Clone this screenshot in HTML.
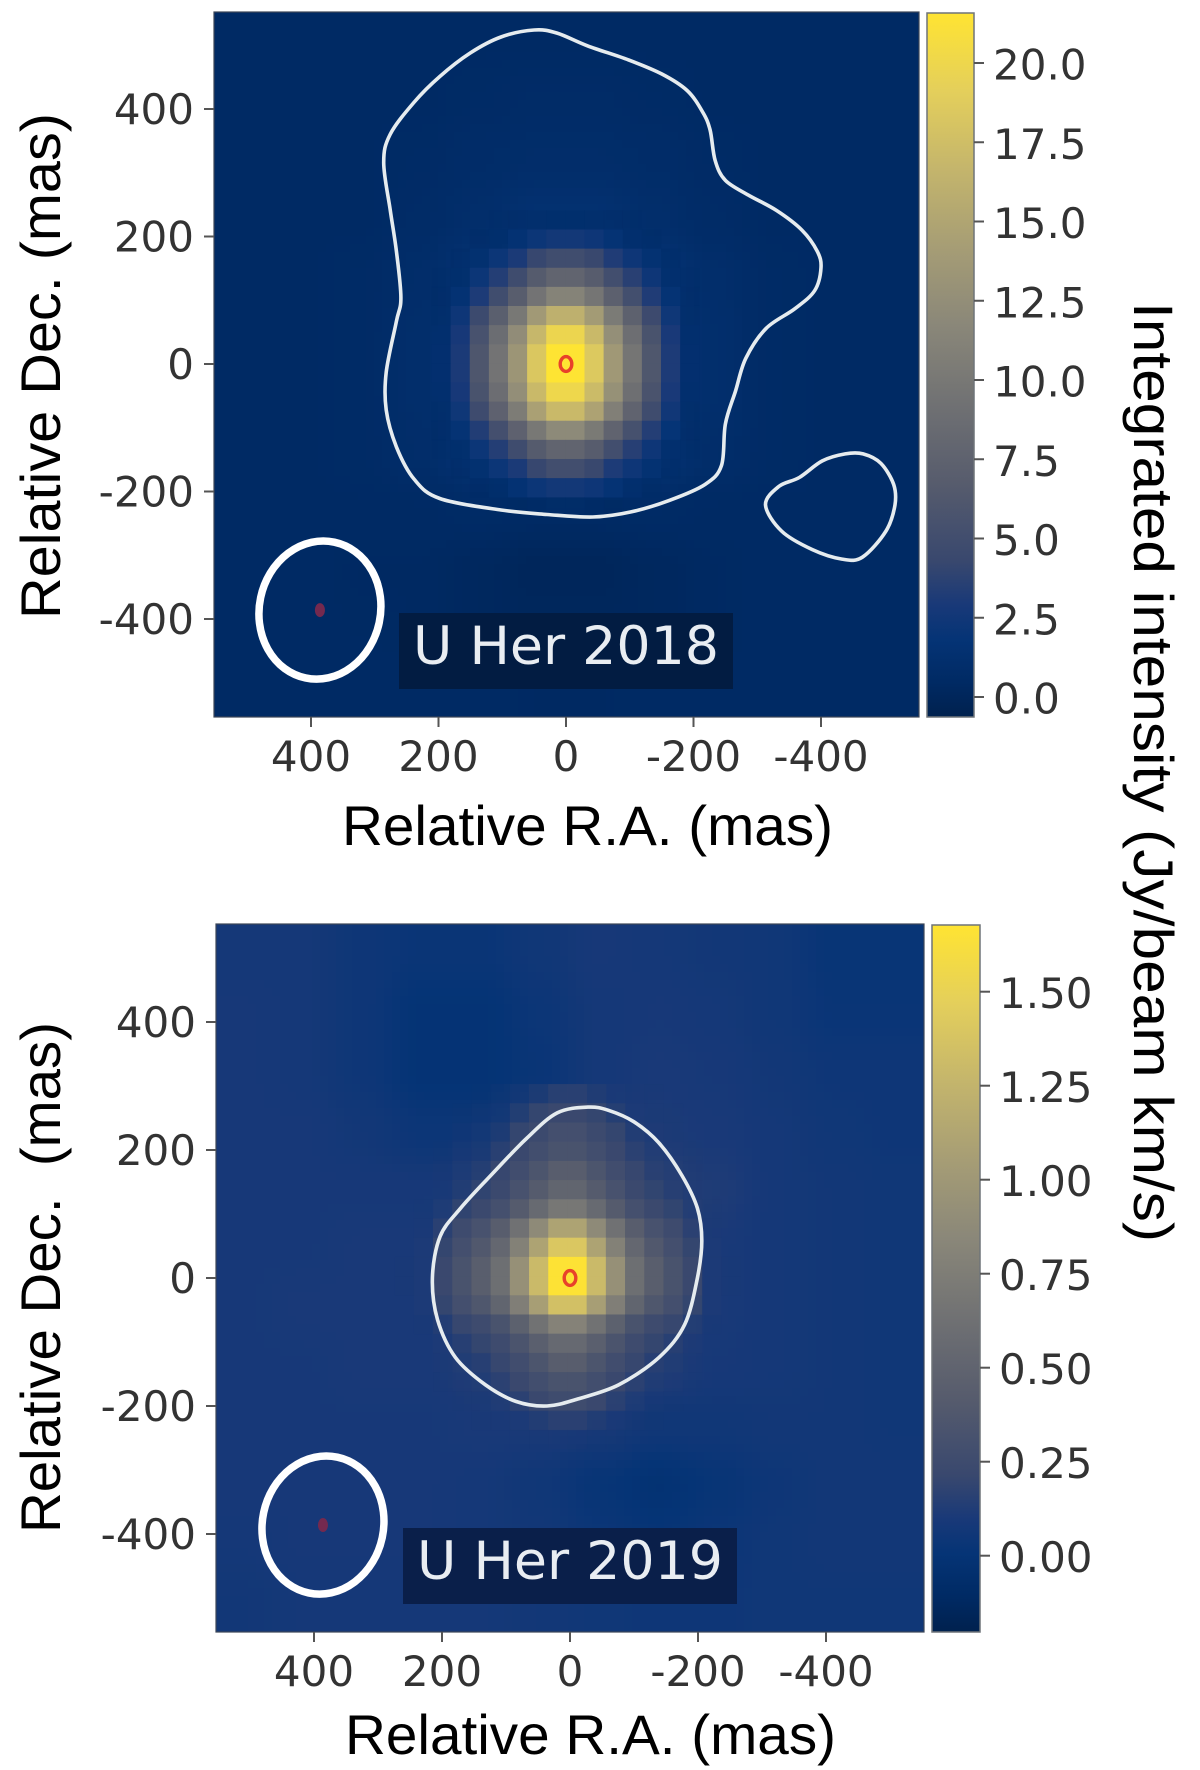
<!DOCTYPE html>
<html lang="en">
<head>
<meta charset="utf-8">
<title>U Her integrated intensity maps</title>
<style>
html,body{margin:0;padding:0;background:#fff;}
svg{display:block;}
.tick{font-family:"DejaVu Sans","Liberation Sans",sans-serif;font-size:42px;fill:#333;}
.title{font-family:"Liberation Sans",sans-serif;font-size:56px;fill:#000;white-space:pre;}
.tag{font-family:"DejaVu Sans","Liberation Sans",sans-serif;font-size:53px;fill:#e9edf2;}
</style>
</head>
<body>
<svg id="chart" xmlns="http://www.w3.org/2000/svg" width="1200" height="1770" viewBox="0 0 1200 1770">
<defs>
<clipPath id="clip2018"><rect x="214" y="12" width="705" height="705"/></clipPath>
<clipPath id="clip2019"><rect x="216" y="924" width="708" height="708"/></clipPath>
</defs>
</svg>
<script>
// ---------- shared tick labels ----------
const raTicks = [400, 200, 0, -200, -400];
const decTicks = [400, 200, 0, -200, -400];
const colorbarTicks2018 = [0, 2.5, 5, 7.5, 10, 12.5, 15, 17.5, 20];
const colorbarLabels2018 = ["0.0", "2.5", "5.0", "7.5", "10.0", "12.5", "15.0", "17.5", "20.0"];
const colorbarTicks2019 = [0, 0.25, 0.5, 0.75, 1, 1.25, 1.5];
const colorbarLabels2019 = ["0.00", "0.25", "0.50", "0.75", "1.00", "1.25", "1.50"];

// ---------- colormap ----------
const cividisStops = [
  [0, 0, 33, 78], [0.05, 0, 42, 100], [0.111, 5, 52, 118], [0.16, 25, 57, 120], [0.222, 57, 72, 110],
  [0.333, 87, 92, 109], [0.444, 112, 113, 115], [0.556, 138, 135, 121], [0.667, 166, 157, 117],
  [0.778, 196, 181, 108], [0.889, 228, 207, 91], [1, 255, 228, 50]
];

// ---------- 2018 values (Jy/beam km/s) ----------
const background2018 = [
  [.5,.5,.5,.5,.5,.5,.5,.5,.5,.5,.5,.5],
  [.5,.5,.5,.5,.6,.7,.7,.6,.5,.5,.5,.5],
  [.5,.5,.5,.6,.8,.9,.9,.8,.6,.5,.5,.5],
  [.5,.5,.5,.7,1.0,1.4,1.4,1.0,.7,.5,.5,.5],
  [.5,.5,.6,.9,1.6,2.0,2.0,1.6,1.0,.6,.5,.5],
  [.5,.5,.6,1.0,1.8,2.2,2.2,1.8,1.1,.6,.5,.5],
  [.5,.5,.6,1.0,1.8,2.2,2.2,1.8,1.1,.6,.5,.5],
  [.5,.5,.6,.9,1.6,2.0,2.0,1.6,.9,.6,.5,.5],
  [.5,.5,.5,.5,.6,.5,.5,.6,.5,.5,.5,.5],
  [.5,.5,.4,.4,.2,0,0,.2,.4,.5,.5,.5],
  [.5,.5,.45,.4,.2,.1,.1,.2,.4,.5,.5,.5],
  [.5,.5,.5,.5,.5,.4,.4,.5,.5,.5,.5,.5]
];
const core2018 = [
  [0,0,0,0,0,0,.1,.1,.1,.2,.2,.1,.1,.1,0,0,0,0,0,0],
  [0,0,0,0,.1,.1,.2,.2,.3,.4,.4,.3,.2,.2,.1,.1,0,0,0,0],
  [0,0,0,.1,.2,.3,.5,.7,.9,1.1,1.1,.9,.7,.5,.3,.2,.1,0,0,0],
  [0,0,.1,.2,.4,.7,1.1,1.6,2.2,2.6,2.6,2.3,1.7,1.2,.8,.4,.2,.1,0,0],
  [0,0,.1,.3,.7,1.4,2.2,3.0,4.2,4.9,4.9,4.3,3.2,2.3,1.5,.8,.3,.1,0,0],
  [0,.1,.2,.5,1.1,2.2,3.4,4.8,6.6,7.7,7.7,6.8,5.0,3.6,2.3,1.2,.5,.2,.1,0],
  [0,.1,.2,.7,1.6,3.1,4.9,6.9,9.5,11.2,11.2,9.7,7.2,5.1,3.2,1.7,.7,.2,.1,0],
  [0,.2,.3,1.0,2.3,4.5,7.1,10,13.7,16.1,16.1,13.9,10.3,7.3,4.6,2.4,1.0,.3,.2,0],
  [0,.2,.4,1.2,2.8,5.5,8.7,12.3,16.8,19.8,19.8,17,12.6,8.9,5.6,2.9,1.2,.4,.2,0],
  [0,.2,.4,1.3,3.0,6.0,9.5,13.3,18.3,21.5,21.5,18.5,13.6,9.7,6.1,3.1,1.3,.4,.2,0],
  [0,.2,.4,1.3,3.0,6.0,9.5,13.3,18.3,21.5,21.5,18.5,13.6,9.7,6.1,3.1,1.3,.4,.2,0],
  [0,.2,.4,1.2,2.8,5.6,8.8,12.5,17,20,20,17.2,12.8,9.0,5.7,2.9,1.2,.4,.2,0],
  [0,.1,.3,1.0,2.4,4.7,7.4,10.5,14.5,17,17,14.7,10.8,7.6,4.8,2.5,1.0,.3,.1,0],
  [0,.1,.2,.7,1.7,3.3,5.2,7.4,10,12,12,10.2,7.6,5.4,3.4,1.8,.7,.2,.1,0],
  [0,0,.2,.5,1.1,2.2,3.4,4.8,6.6,7.7,7.7,6.8,5.0,3.5,2.3,1.2,.5,.2,0,0],
  [0,0,.1,.3,.7,1.4,2.2,3.0,4.2,5.0,5.0,4.3,3.1,2.3,1.5,.8,.3,.1,0,0],
  [0,0,0,.2,.4,.7,1.1,1.6,2.2,2.6,2.6,2.3,1.7,1.2,.8,.4,.2,0,0,0],
  [0,0,0,.1,.2,.3,.4,.6,.8,1.0,1.0,.8,.6,.4,.3,.2,.1,0,0,0],
  [0,0,0,0,0,.1,.2,.2,.3,.4,.4,.3,.2,.2,.1,0,0,0,0,0],
  [0,0,0,0,0,0,0,0,.1,.1,.1,.1,0,0,0,0,0,0,0,0]
];
const contourMainRa2018 = [50,14,-34,-98,-150,-190,-214,-226,-234,-250,-286,-330,-370,-394,-400,-390,-358,-314,-282,-266,-250,-244,-218,-162,-102,-42,30,102,198,238,266,282,282,266,259,266,276,286,276,238,198,150,102];
const contourMainDec2018 = [524,519,499,477,455,429,396,367,319,288,265,241,210,177,151,115,86,56,9,-42,-94,-159,-189,-214,-232,-240,-236,-229,-211,-181,-130,-72,-13,67,104,177,243,316,360,411,451,488,513];
const contourSmallRa2018 = [-438,-466,-494,-514,-516,-502,-465,-433,-386,-338,-313,-334,-366,-402];
const contourSmallDec2018 = [-141,-141,-156,-189,-221,-262,-303,-306,-291,-262,-221,-192,-178,-152];

// ---------- 2019 values (Jy/beam km/s) ----------
const background2019 = [
  [.08,.08,.05,.03,.03,.06,.09,.08,.07,.06,.02,.02],
  [.09,.08,.05,.0,.0,.04,.08,.09,.08,.06,.03,.03],
  [.09,.08,.05,.0,.0,.03,.08,.10,.09,.07,.05,.05],
  [.09,.09,.07,.04,.04,.07,.10,.11,.10,.08,.06,.05],
  [.09,.09,.09,.09,.10,.12,.15,.15,.12,.08,.07,.06],
  [.09,.09,.10,.10,.14,.18,.18,.15,.10,.08,.07,.06],
  [.09,.10,.10,.10,.14,.18,.18,.14,.10,.08,.07,.06],
  [.09,.09,.10,.10,.12,.15,.15,.12,.09,.08,.07,.06],
  [.09,.09,.09,.09,.10,.10,.09,.06,.06,.07,.07,.06],
  [.09,.09,.09,.09,.08,.06,.02,-.01,.02,.05,.07,.07],
  [.08,.09,.09,.09,.08,.07,.04,.02,.04,.06,.07,.07],
  [.07,.08,.08,.08,.08,.07,.06,.05,.05,.06,.06,.06]
];
const core2019 = [
  [.10,.10,.10,.11,.11,.12,.13,.14,.16,.18,.18,.16,.14,.13,.12,.11,.11,.10,.10,.10],
  [.10,.10,.10,.11,.12,.13,.14,.17,.20,.22,.22,.20,.17,.14,.13,.12,.11,.10,.10,.10],
  [.10,.10,.11,.11,.13,.14,.16,.20,.24,.29,.29,.24,.20,.16,.14,.13,.11,.11,.10,.10],
  [.10,.10,.11,.12,.14,.15,.18,.22,.28,.33,.33,.28,.22,.18,.15,.14,.12,.11,.10,.10],
  [.10,.10,.11,.13,.15,.17,.21,.27,.35,.43,.43,.35,.27,.21,.17,.15,.13,.11,.10,.10],
  [.10,.10,.11,.13,.16,.19,.23,.32,.41,.51,.51,.41,.32,.23,.19,.16,.13,.11,.10,.10],
  [.10,.11,.12,.15,.19,.23,.30,.41,.56,.69,.69,.56,.41,.30,.23,.19,.15,.12,.11,.10],
  [.10,.11,.13,.18,.25,.32,.43,.63,.87,1.10,1.10,.87,.63,.43,.32,.25,.18,.13,.11,.10],
  [.10,.11,.14,.20,.29,.38,.53,.79,1.10,1.40,1.40,1.10,.79,.53,.38,.29,.20,.14,.11,.10],
  [.10,.12,.14,.22,.33,.44,.61,.93,1.30,1.66,1.66,1.30,.93,.61,.44,.33,.22,.14,.12,.10],
  [.10,.12,.14,.22,.33,.44,.61,.93,1.30,1.66,1.66,1.30,.93,.61,.44,.33,.22,.14,.12,.10],
  [.10,.11,.14,.20,.29,.37,.51,.76,1.06,1.35,1.35,1.06,.76,.51,.37,.29,.20,.14,.11,.10],
  [.10,.11,.12,.16,.21,.25,.33,.47,.64,.80,.80,.64,.47,.33,.25,.21,.16,.12,.11,.10],
  [.10,.10,.11,.14,.17,.20,.25,.34,.45,.55,.55,.45,.34,.25,.20,.17,.14,.11,.10,.10],
  [.10,.10,.11,.13,.15,.17,.21,.27,.35,.43,.43,.35,.27,.21,.17,.15,.13,.11,.10,.10],
  [.10,.10,.11,.12,.14,.15,.18,.22,.28,.33,.33,.28,.22,.18,.15,.14,.12,.11,.10,.10],
  [.10,.10,.10,.11,.12,.13,.15,.18,.22,.26,.26,.22,.18,.15,.13,.12,.11,.10,.10,.10],
  [.10,.10,.10,.11,.11,.12,.13,.14,.16,.18,.18,.16,.14,.13,.12,.11,.11,.10,.10,.10],
  [.10,.10,.10,.10,.10,.11,.11,.12,.12,.13,.13,.12,.12,.11,.11,.10,.10,.10,.10,.10],
  [.10,.10,.10,.10,.10,.10,.10,.10,.11,.11,.11,.11,.10,.10,.10,.10,.10,.10,.10,.10]
];
const contourMainRa2019 = [-28,-60,-100,-139,-175,-199,-206,-199,-179,-139,-76,-12,36,84,132,179,207,215,203,171,124,68,20];
const contourMainDec2019 = [267,262,244,211,160,109,58,0,-73,-124,-167,-189,-200,-193,-167,-124,-65,0,65,109,160,218,258];

// ---------- beam position (mas) ----------
const beamPosition = [386, -386];

const svg = document.getElementById('chart');
const NS = 'http://www.w3.org/2000/svg';

function colorOf(t) {
  const c = Math.max(0, Math.min(1, t));
  for (let i = 1; i < cividisStops.length; i++) {
    const a = cividisStops[i - 1];
    const b = cividisStops[i];
    if (c <= b[0]) {
      const f = (c - a[0]) / (b[0] - a[0]);
      return 'rgb(' + Math.round(a[1] + f * (b[1] - a[1])) + ',' + Math.round(a[2] + f * (b[2] - a[2])) + ',' + Math.round(a[3] + f * (b[3] - a[3])) + ')';
    }
  }
  return 'rgb(255,228,50)';
}

function node(tag, parent, props) {
  const el = document.createElementNS(NS, tag);
  for (const k in props) el.setAttribute(k, props[k]);
  parent.appendChild(el);
  return el;
}

function smoothClosed(xs, ys) {
  const n = xs.length;
  let d = 'M' + xs[0].toFixed(1) + ' ' + ys[0].toFixed(1);
  for (let i = 0; i < n; i++) {
    const i0 = (i - 1 + n) % n, i2 = (i + 1) % n, i3 = (i + 2) % n;
    const c1x = xs[i] + (xs[i2] - xs[i0]) / 6, c1y = ys[i] + (ys[i2] - ys[i0]) / 6;
    const c2x = xs[i2] - (xs[i3] - xs[i]) / 6, c2y = ys[i2] - (ys[i3] - ys[i]) / 6;
    d += 'C' + c1x.toFixed(1) + ' ' + c1y.toFixed(1) + ' ' + c2x.toFixed(1) + ' ' + c2y.toFixed(1) + ' ' + xs[i2].toFixed(1) + ' ' + ys[i2].toFixed(1);
  }
  return d + 'Z';
}

// Smooth shading of the diffuse-emission grid at a given plot position.
function fieldAt(rows, fx, fy) {
  const nr = rows.length, nc = rows[0].length;
  const gx = Math.max(0, Math.min(nc - 1.001, fx * nc - .5));
  const gy = Math.max(0, Math.min(nr - 1.001, fy * nr - .5));
  const c = Math.floor(gx), r = Math.floor(gy);
  const u = gx - c, w = gy - r;
  const su = u * u * (3 - 2 * u), sw = w * w * (3 - 2 * w);
  return (rows[r][c] * (1 - su) + rows[r][c + 1] * su) * (1 - sw) + (rows[r + 1][c] * (1 - su) + rows[r + 1][c + 1] * su) * sw;
}

function drawPanel(p) {
  const xScale = ra => p.cx - ra * p.pxPerMas;
  const yScale = dec => p.cy - dec * p.pxPerMas;
  const tOf = v => (v - p.vmin) / (p.vmax - p.vmin);
  const barY = v => p.barZeroY - v * p.barPxPerUnit;

  const group = node('g', svg, {});
  
  

  const map = node('g', group, {'clip-path': 'url(#clip' + p.year + ')'});
  
  

  const soft = node('g', map, {'shape-rendering': 'crispEdges'});
  
  
  const w = p.right - p.left;
  const h = p.bottom - p.top;
  const tile = 8;
  for (let ty = 0; ty < h; ty += tile) {
    for (let tx = 0; tx < w; tx += tile) {
      const v = fieldAt(p.background, (tx + tile / 2) / w, (ty + tile / 2) / h);
      const cell = node('rect', soft, {x: p.left + tx, y: p.top + ty, width: tile, height: tile, fill: colorOf(tOf(v))});
      
      
    }
  }

  const blocks = node('g', map, {});
  
  
  const cellMas = 30;
  const cellPx = cellMas * p.pxPerMas;
  p.core.forEach((row, r) => row.forEach((v, c) => {
    const o = Math.max(0, Math.min(1, (v - p.fadeStart) / p.fadeSpan));
    if (o <= 0) return;
    const ra = p.gridRa - c * cellMas;
    const dec = p.gridDec - r * cellMas;
    const cell = node('rect', blocks, {x: xScale(ra), y: yScale(dec), width: cellPx + .4, height: cellPx + .4, fill: colorOf(tOf(v)), opacity: o});
    
    
  }));

  p.contours.forEach((ct, i) => {
    const path = node('path', map, {d: smoothClosed(ct[0].map(xScale), ct[1].map(yScale)), fill: 'none', stroke: '#e6ecef', 'stroke-width': 3.6, 'stroke-linejoin': 'round'});
    
    
  });

  const bx = xScale(beamPosition[0]);
  const by = yScale(beamPosition[1]);
  const beam = node('ellipse', map, {cx: bx, cy: by, rx: 60.6, ry: 69.4, fill: 'none', stroke: '#fff', 'stroke-width': 7.5, transform: 'rotate(12 ' + bx + ' ' + by + ')'});
  
  
  const beamDot = node('ellipse', map, {cx: bx, cy: by, rx: 5, ry: 7, fill: '#74294f'});
  
  

  const star = node('ellipse', map, {cx: xScale(0), cy: yScale(0), rx: 5.8, ry: 7.4, fill: 'none', stroke: '#e8412a', 'stroke-width': 3.4});
  
  

  const tagBox = node('rect', group, {x: p.tagX, y: p.tagY, width: 334, height: 76, fill: p.tagFill});
  
  
  const tag = node('text', group, {x: p.tagX + 14, y: p.tagY + 51, class: 'tag', textLength: 306, lengthAdjust: 'spacingAndGlyphs'});
  tag.textContent = 'U Her ' + p.year;
  
  

  const frame = node('rect', group, {x: p.left, y: p.top, width: w, height: h, fill: 'none', stroke: '#3c4658', 'stroke-width': 1.2});
  
  

  raTicks.forEach(v => {
    const x = xScale(v);
    const tick = node('line', group, {x1: x, x2: x, y1: p.bottom, y2: p.bottom + 10, stroke: '#555', 'stroke-width': 2});
    
    
    const label = node('text', group, {x: x, y: p.bottom + 54, 'text-anchor': 'middle', class: 'tick'});
    label.textContent = String(v);
    
    
  });
  decTicks.forEach(v => {
    const y = yScale(v);
    const tick = node('line', group, {x1: p.left - 10, x2: p.left, y1: y, y2: y, stroke: '#555', 'stroke-width': 2});
    
    
    const label = node('text', group, {x: p.left - 20, y: y + 15, 'text-anchor': 'end', class: 'tick'});
    label.textContent = String(v);
    
    
  });

  const gradId = 'bar' + p.year;
  const defs = svg.querySelector('defs');
  const grad = node('linearGradient', defs, {id: gradId, x1: 0, y1: 1, x2: 0, y2: 0});
  cividisStops.forEach(s => {
    node('stop', grad, {offset: s[0], 'stop-color': colorOf(s[0])});
  });
  const bar = node('rect', group, {x: p.barLeft, y: p.top + 1, width: p.barRight - p.barLeft, height: h - 1, fill: 'url(#' + gradId + ')', stroke: '#6f7478', 'stroke-width': 1.5});
  
  
  p.barTicks.forEach((v, i) => {
    const y = barY(v);
    const tick = node('line', group, {x1: p.barRight, x2: p.barRight + 10, y1: y, y2: y, stroke: '#555', 'stroke-width': 2});
    
    
    const label = node('text', group, {x: p.barRight + 19, y: y + 16.5, class: 'tick'});
    label.textContent = p.barLabels[i];
    
    
  });

  const xTitle = node('text', group, {x: p.xTitleX, y: p.xTitleY, class: 'title', textLength: 491, lengthAdjust: 'spacingAndGlyphs'});
  xTitle.textContent = 'Relative R.A. (mas)';
  
  
  const yTitle = node('text', group, {x: 0, y: 0, class: 'title', textLength: p.yTitleLen, lengthAdjust: 'spacingAndGlyphs', transform: 'translate(60 ' + p.yTitleY + ') rotate(-90)'});
  yTitle.textContent = p.yTitle;
  
  
}

drawPanel({
  year: 2018, left: 214, right: 919, top: 12, bottom: 717, cx: 566, cy: 364, pxPerMas: 0.6375,
  vmin: -0.63, vmax: 21.55, background: background2018, core: core2018,
  gridRa: 301, gridDec: 301, fadeStart: 0.4, fadeSpan: 1.0,
  contours: [[contourMainRa2018, contourMainDec2018], [contourSmallRa2018, contourSmallDec2018]],
  tagX: 399, tagY: 613, tagFill: '#021c42',
  barLeft: 927, barRight: 974, barZeroY: 697, barPxPerUnit: 31.7,
  barTicks: colorbarTicks2018, barLabels: colorbarLabels2018,
  xTitleX: 342, xTitleY: 845, yTitle: 'Relative Dec. (mas)', yTitleY: 619, yTitleLen: 506
});
drawPanel({
  year: 2019, left: 216, right: 924, top: 924, bottom: 1632, cx: 570, cy: 1278, pxPerMas: 0.64,
  vmin: -0.2, vmax: 1.676, background: background2019, core: core2019,
  gridRa: 304, gridDec: 303, fadeStart: 0.115, fadeSpan: 0.08,
  contours: [[contourMainRa2019, contourMainDec2019]],
  tagX: 403, tagY: 1528, tagFill: '#0a1f4a',
  barLeft: 932, barRight: 980, barZeroY: 1555.7, barPxPerUnit: 376,
  barTicks: colorbarTicks2019, barLabels: colorbarLabels2019,
  xTitleX: 345, xTitleY: 1754, yTitle: 'Relative Dec.  (mas)', yTitleY: 1533, yTitleLen: 511
});

const sharedTitle = document.createElementNS(NS, 'text');
sharedTitle.setAttribute('class', 'title');
sharedTitle.setAttribute('transform', 'translate(1134 302) rotate(90)');
sharedTitle.setAttribute('textLength', '940');
sharedTitle.setAttribute('lengthAdjust', 'spacingAndGlyphs');


sharedTitle.textContent = 'Integrated intensity (Jy/beam km/s)';
svg.appendChild(sharedTitle);
</script>
</body>
</html>
